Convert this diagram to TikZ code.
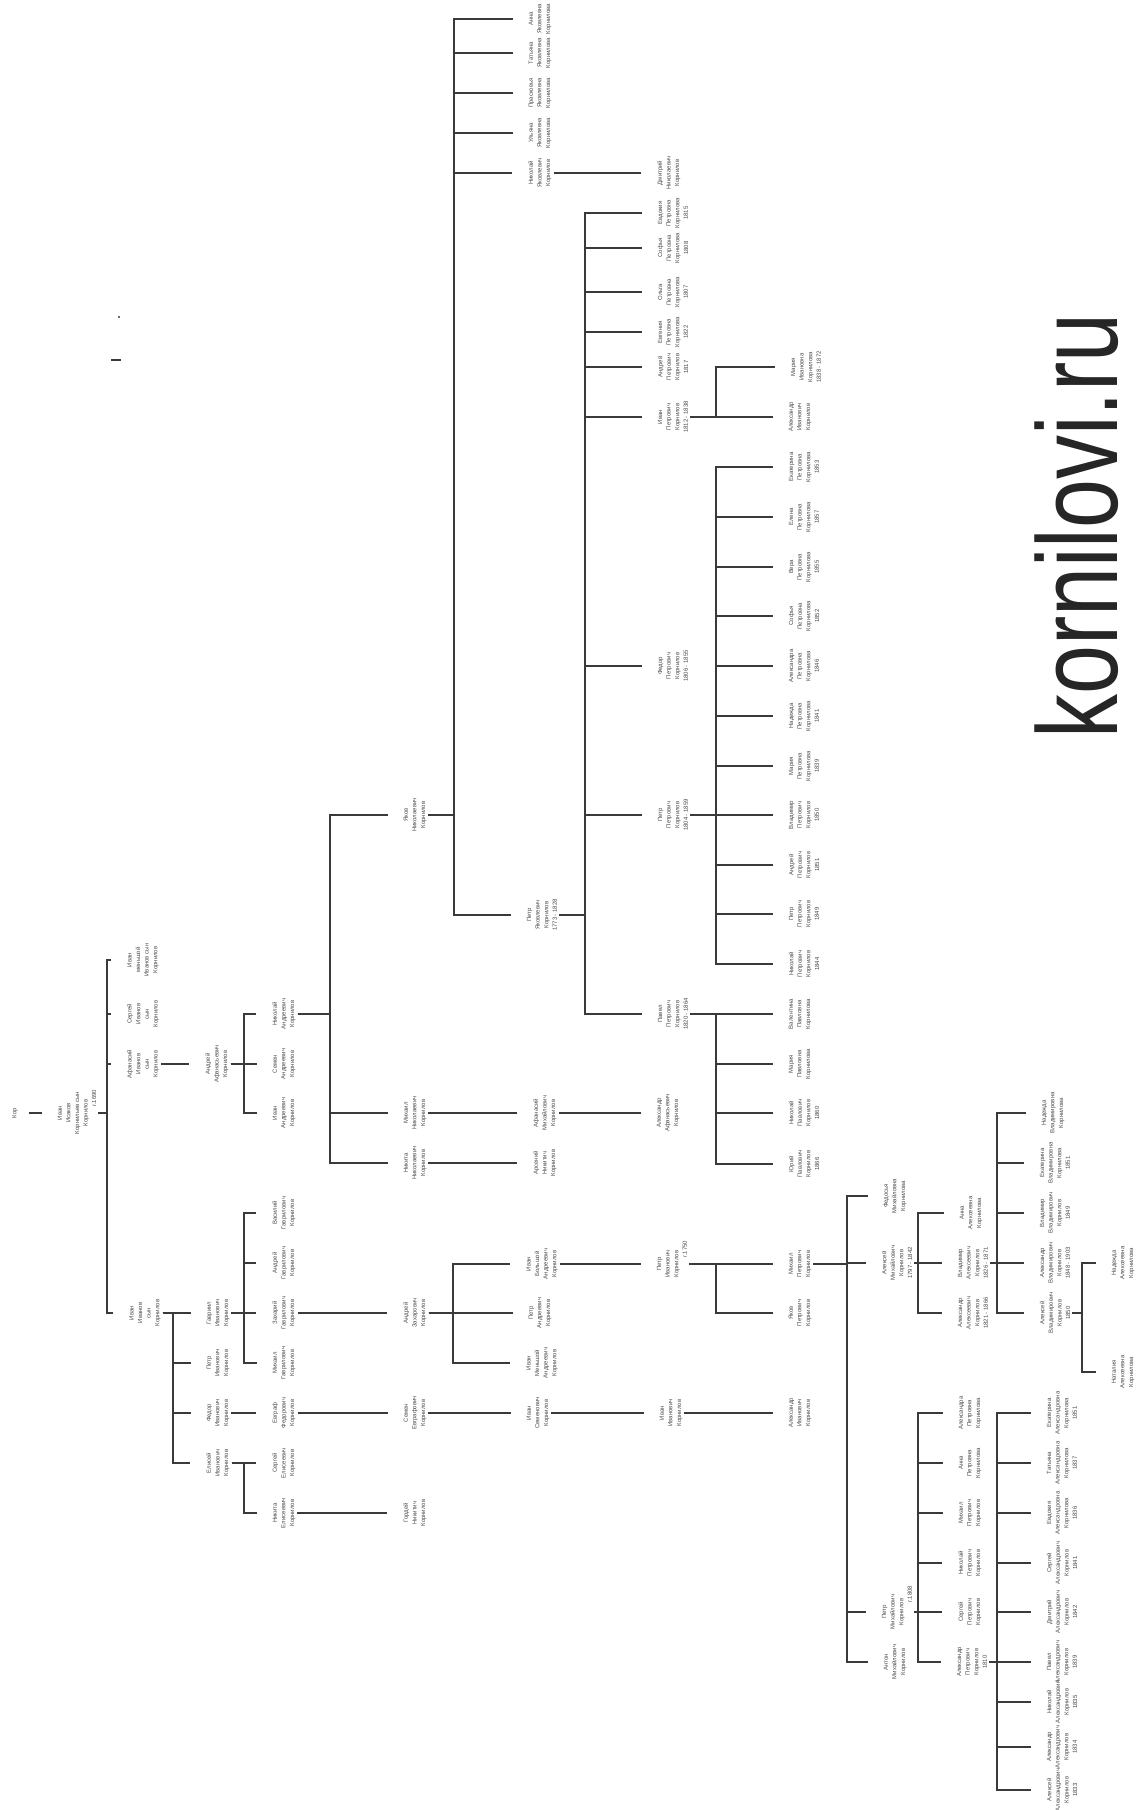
\documentclass[tikz,border=0pt]{standalone}
\usepackage{fontspec}
\setmainfont{Liberation Sans}
\usepackage{tikz}
\definecolor{linegray}{HTML}{3A3A3A}
\definecolor{namegray}{HTML}{4A4A4A}
\tikzset{
  person/.style={rotate=90,align=center,inner sep=1pt,text=namegray,
                 font=\fontsize{3.4}{4.9}\selectfont},
  link/.style={draw=linegray,line width=0.65pt,shorten >=8pt},
  fork/.style={link,to path={(\tikztostart.south) -- (#1,0 |- \tikztostart.south)
                             |- (\tikztotarget.north)}},
  sitename/.style={rotate=90,inner sep=0pt,text=black!85,
                   font=\fontsize{65}{65}\selectfont},
}

\begin{document}
\begin{tikzpicture}[x=0.02cm,y=-0.02cm]

\fill[white] (0,0) rectangle (1143,1810);
\useasboundingbox (0,0) rectangle (1143,1810);

% generation 0-1
\node[person] (kor) at (15,1113) {Кор};
\node[person] (root) at (77,1113) {Иван\\Исаков\\Корнильев сын\\Корнилов\\\hspace*{5em}г.1690};
\node[person] (ivm) at (143,960) {Иван\\меньшой\\Иванов сын\\Корнилов};
\node[person] (ser) at (143,1014) {Сергей\\Иванов\\сын\\Корнилов};
\node[person] (afa) at (143,1064) {Афанасий\\Иванов\\сын\\Корнилов};
\node[person] (ivb) at (145,1313) {Иван\\Иванов\\сын\\Корнилов};

% generation 2
\node[person] (andA) at (217,1064) {Андрей\\Афанасьевич\\Корнилов};
\node[person] (gav) at (218,1313) {Гавриил\\Иванович\\Корнилов};
\node[person] (pet) at (218,1363) {Петр\\Иванович\\Корнилов};
\node[person] (fed) at (218,1413) {Федор\\Иванович\\Корнилов};
\node[person] (eli) at (218,1463) {Елисей\\Иванович\\Корнилов};

% generation 3
\node[person] (nik) at (284,1014) {Николай\\Андреевич\\Корнилов};
\node[person] (sem) at (284,1064) {Семен\\Андреевич\\Корнилов};
\node[person] (ivA) at (284,1113) {Иван\\Андреевич\\Корнилов};
\node[person] (vas) at (284,1213) {Василий\\Гаврилович\\Корнилов};
\node[person] (anG) at (284,1263) {Андрей\\Гаврилович\\Корнилов};
\node[person] (zah) at (284,1313) {Захарий\\Гаврилович\\Корнилов};
\node[person] (mih) at (284,1363) {Михаил\\Гаврилович\\Корнилов};
\node[person] (evg) at (284,1413) {Евграф\\Федорович\\Корнилов};
\node[person] (serE) at (284,1463) {Сергей\\Елисеевич\\Корнилов};
\node[person] (nikE) at (284,1513) {Никита\\Елисеевич\\Корнилов};

% generation 4
\node[person] (yak) at (415,815) {Яков\\Николаевич\\Корнилов};
\node[person] (mihN) at (415,1113) {Михаил\\Николаевич\\Корнилов};
\node[person] (nikN) at (415,1163) {Никита\\Николаевич\\Корнилов};
\node[person] (andZ) at (415,1313) {Андрей\\Захарович\\Корнилов};
\node[person] (semE) at (415,1413) {Семен\\Евграфович\\Корнилов};
\node[person] (gor) at (415,1513) {Гордей\\Никитич\\Корнилов};

% generation 5
\node[person] (anna) at (540,19) {Анна\\Яковлевна\\Корнилова};
\node[person] (tat) at (540,53) {Татьяна\\Яковлевна\\Корнилова};
\node[person] (pras) at (540,93) {Прасковья\\Яковлевна\\Корнилова};
\node[person] (ul) at (540,133) {Ульяна\\Яковлевна\\Корнилова};
\node[person] (nikY) at (540,173) {Николай\\Яковлевич\\Корнилов};
\node[person] (petY) at (542,915) {Петр\\Яковлевич\\Корнилов\\1773 - 1828};
\node[person] (afM) at (545,1113) {Афанасий\\Михайлович\\Корнилов};
\node[person] (ars) at (545,1163) {Арсений\\Никитич\\Корнилов};
\node[person] (ivBA) at (542,1264) {Иван\\Большой\\Андреевич\\Корнилов};
\node[person] (petA) at (540,1313) {Петр\\Андреевич\\Корнилов};
\node[person] (ivMA) at (542,1363) {Иван\\Меньшой\\Андреевич\\Корнилов};
\node[person] (ivS) at (538,1413) {Иван\\Семенович\\Корнилов};

% generation 6
\node[person] (dmi) at (669,173) {Дмитрий\\Николаевич\\Корнилов};
\node[person] (evd) at (673,213) {Евдокия\\Петровна\\Корнилова\\1815};
\node[person] (sof) at (673,248) {Софья\\Петровна\\Корнилова\\1808};
\node[person] (olg) at (673,292) {Ольга\\Петровна\\Корнилова\\1807};
\node[person] (evgP) at (673,332) {Евгения\\Петровна\\Корнилова\\1822};
\node[person] (andP) at (673,367) {Андрей\\Петрович\\Корнилов\\1817};
\node[person] (ivP) at (673,417) {Иван\\Петрович\\Корнилов\\1812 - 1838};
\node[person] (fedP) at (673,666) {Федор\\Петрович\\Корнилов\\1806 - 1855};
\node[person] (petP) at (673,815) {Петр\\Петрович\\Корнилов\\1804 - 1859};
\node[person] (pavP) at (673,1014) {Павел\\Петрович\\Корнилов\\1820 - 1864};
\node[person] (alA) at (668,1113) {Александр\\Афанасьевич\\Корнилов};
\node[person] (petI) at (672,1264) {Петр\\Иванович\\Корнилов\\\hspace*{5em}г.1750};
\node[person] (ivI) at (671,1413) {Иван\\Иванович\\Корнилов};

% generation 7
\node[person] (mar) at (806,367) {Мария\\Ивановна\\Корнилова\\1838 - 1872};
\node[person] (alI) at (800,417) {Александр\\Иванович\\Корнилов};
\node[person] (ek) at (804,467) {Екатерина\\Петровна\\Корнилова\\1853};
\node[person] (el) at (804,517) {Елена\\Петровна\\Корнилова\\1857};
\node[person] (ver) at (804,567) {Вера\\Петровна\\Корнилова\\1855};
\node[person] (sofP) at (804,616) {Софья\\Петровна\\Корнилова\\1852};
\node[person] (alP) at (804,666) {Александра\\Петровна\\Корнилова\\1846};
\node[person] (nad) at (804,716) {Надежда\\Петровна\\Корнилова\\1841};
\node[person] (marP) at (804,766) {Мария\\Петровна\\Корнилова\\1839};
\node[person] (vla) at (804,815) {Владимир\\Петрович\\Корнилов\\1850};
\node[person] (andPP) at (804,865) {Андрей\\Петрович\\Корнилов\\1851};
\node[person] (petPP) at (804,914) {Петр\\Петрович\\Корнилов\\1849};
\node[person] (nikP) at (804,964) {Николай\\Петрович\\Корнилов\\1844};
\node[person] (val) at (800,1014) {Валентина\\Павловна\\Корнилова};
\node[person] (marPa) at (800,1064) {Мария\\Павловна\\Корнилова};
\node[person] (nikPa) at (804,1113) {Николай\\Павлович\\Корнилов\\1860};
\node[person] (yur) at (804,1164) {Юрий\\Павлович\\Корнилов\\1866};
\node[person] (mihP) at (800,1264) {Михаил\\Петрович\\Корнилов};
\node[person] (yakP) at (800,1313) {Яков\\Петрович\\Корнилов};
\node[person] (alIv) at (800,1413) {Александр\\Иванович\\Корнилов};

% generation 8
\node[person] (fedM) at (895,1196) {Федосья\\Михайловна\\Корнилова};
\node[person] (alM) at (897,1263) {Алексей\\Михайлович\\Корнилов\\1797 - 1842};
\node[person] (petM) at (897,1612) {Петр\\Михайлович\\Корнилов\\\hspace*{6em}г.1808};
\node[person] (ant) at (895,1662) {Антон\\Михайлович\\Корнилов};

% generation 9
\node[person] (anA) at (971,1213) {Анна\\Алексеевна\\Корнилова};
\node[person] (vlA) at (973,1263) {Владимир\\Алексеевич\\Корнилов\\1826 - 1871};
\node[person] (alAA) at (973,1313) {Александр\\Алексеевич\\Корнилов\\1821 - 1866};
\node[person] (alexP) at (970,1413) {Александра\\Петровна\\Корнилова};
\node[person] (anP) at (970,1463) {Анна\\Петровна\\Корнилова};
\node[person] (mihPe) at (970,1513) {Михаил\\Петрович\\Корнилов};
\node[person] (nikPe) at (970,1563) {Николай\\Петрович\\Корнилов};
\node[person] (serP) at (970,1612) {Сергей\\Петрович\\Корнилов};
\node[person] (alPe) at (972,1662) {Александр\\Петрович\\Корнилов\\1810};

% generation 10-11
\node[person] (nadV) at (1053,1113) {Надежда\\Владимировна\\Корнилова};
\node[person] (ekV) at (1055,1163) {Екатерина\\Владимировна\\Корнилова\\1851};
\node[person] (vlV) at (1055,1213) {Владимир\\Владимирович\\Корнилов\\1849};
\node[person] (alV) at (1055,1263) {Александр\\Владимирович\\Корнилов\\1848 - 1903};
\node[person] (alxV) at (1055,1313) {Алексей\\Владимирович\\Корнилов\\1850};
\node[person] (ekA) at (1062,1413) {Екатерина\\Александровна\\Корнилова\\1851};
\node[person] (tatA) at (1062,1463) {Татьяна\\Александровна\\Корнилова\\1837};
\node[person] (evdA) at (1062,1513) {Евдокия\\Александровна\\Корнилова\\1836};
\node[person] (serA) at (1062,1563) {Сергей\\Александрович\\Корнилов\\1841};
\node[person] (dmA) at (1062,1612) {Дмитрий\\Александрович\\Корнилов\\1842};
\node[person] (pavA) at (1062,1662) {Павел\\Александрович\\Корнилов\\1839};
\node[person] (nikA) at (1062,1702) {Николай\\Александрович\\Корнилов\\1835};
\node[person] (alAl) at (1062,1747) {Александр\\Александрович\\Корнилов\\1834};
\node[person] (alxA) at (1062,1790) {Алексей\\Александрович\\Корнилов\\1833};
\node[person] (nadA) at (1123,1263) {Надежда\\Алексеевна\\Корнилова};
\node[person] (natA) at (1123,1372) {Наталия\\Алексеевна\\Корнилова};

\node[sitename] (site) at (1077,526) {\scalebox{0.77}[1]{kornilovi.ru}};

% stray marks
\fill[linegray] (119,317) circle (1.2);
\draw[linegray,line width=0.65pt] (111,360) -- (121,360);

% links
\path (kor) edge[fork=36,shorten <=5pt] (root);
\path (root) edge[fork=107] (ivm) edge[fork=107] (ser) edge[fork=107] (afa) edge[fork=107] (ivb);
\path (afa) edge[fork=176] (andA);
\path (ivb) edge[fork=173] (gav) edge[fork=173] (pet) edge[fork=173] (fed) edge[fork=173] (eli);
\path (andA) edge[fork=244] (nik) edge[fork=244] (sem) edge[fork=244] (ivA);
\path (gav) edge[fork=244] (vas) edge[fork=244] (anG) edge[fork=244] (zah) edge[fork=244] (mih);
\path (fed) edge[fork=244] (evg);
\path (eli) edge[fork=244] (serE) edge[fork=244] (nikE);
\path (nik) edge[fork=330] (yak) edge[fork=330] (mihN) edge[fork=330] (nikN);
\path (zah) edge[fork=330] (andZ);
\path (evg) edge[fork=330] (semE);
\path (nikE) edge[fork=330] (gor);
\path (yak) edge[fork=454] (anna) edge[fork=454] (tat) edge[fork=454] (pras)
            edge[fork=454] (ul) edge[fork=454] (nikY) edge[fork=454] (petY);
\path (mihN) edge[fork=470] (afM);
\path (nikN) edge[fork=470] (ars);
\path (andZ) edge[fork=453] (ivBA) edge[fork=453] (petA) edge[fork=453] (ivMA);
\path (semE) edge[fork=470] (ivS);
\path (nikY) edge[fork=600] (dmi);
\path (petY) edge[fork=585] (evd) edge[fork=585] (sof) edge[fork=585] (olg)
             edge[fork=585] (evgP) edge[fork=585] (andP) edge[fork=585] (ivP)
             edge[fork=585] (fedP) edge[fork=585] (petP) edge[fork=585] (pavP);
\path (afM) edge[fork=600] (alA);
\path (ivBA) edge[fork=600] (petI);
\path (ivS) edge[fork=600] (ivI);
\path (ivP) edge[fork=716] (mar) edge[fork=716] (alI);
\path (petP) edge[fork=716] (ek) edge[fork=716] (el) edge[fork=716] (ver)
             edge[fork=716] (sofP) edge[fork=716] (alP) edge[fork=716] (nad)
             edge[fork=716] (marP) edge[fork=716] (vla) edge[fork=716] (andPP)
             edge[fork=716] (petPP) edge[fork=716] (nikP);
\path (pavP) edge[fork=716] (val) edge[fork=716] (marPa) edge[fork=716] (nikPa) edge[fork=716] (yur);
\path (petI) edge[fork=716] (mihP) edge[fork=716] (yakP);
\path (ivI) edge[fork=716] (alIv);
\path (mihP) edge[fork=847] (fedM) edge[fork=847] (alM) edge[fork=847] (petM) edge[fork=847] (ant);
\path (alM) edge[fork=918] (anA) edge[fork=918] (vlA) edge[fork=918] (alAA);
\path (petM) edge[fork=918] (alexP) edge[fork=918] (anP) edge[fork=918] (mihPe)
             edge[fork=918] (nikPe) edge[fork=918] (serP) edge[fork=918] (alPe);
\path (vlA) edge[fork=997] (nadV) edge[fork=997] (ekV) edge[fork=997] (vlV)
            edge[fork=997] (alV) edge[fork=997] (alxV);
\path (alPe) edge[fork=997] (ekA) edge[fork=997] (tatA) edge[fork=997] (evdA)
             edge[fork=997] (serA) edge[fork=997] (dmA) edge[fork=997] (pavA)
             edge[fork=997] (nikA) edge[fork=997] (alAl) edge[fork=997] (alxA);
\path (alxV) edge[fork=1082] (nadA) edge[fork=1082] (natA);

\end{tikzpicture}
\end{document}
